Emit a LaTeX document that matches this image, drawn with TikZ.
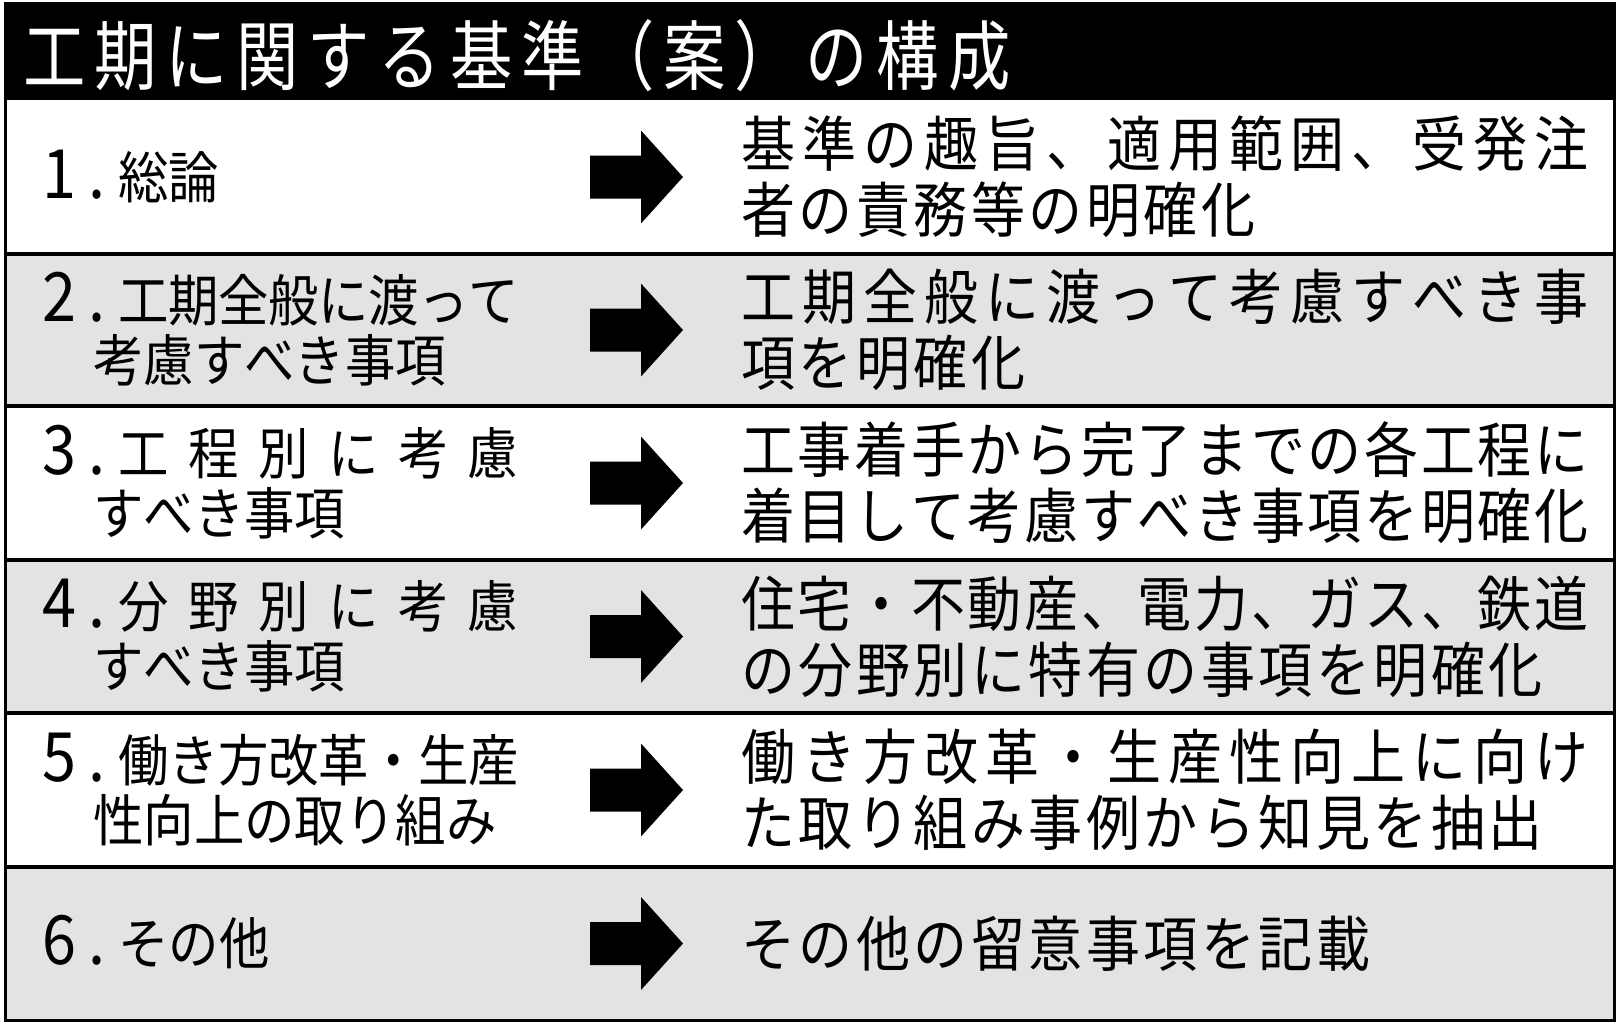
\documentclass[tikz,border=0pt]{standalone}
\usepackage{fontspec}
\newfontfamily\ttlfont[FakeStretch=0.82]{Noto Sans CJK JP}
\newfontfamily\lfont[FakeStretch=0.9]{Noto Sans CJK JP}
\newfontfamily\rfont[FakeStretch=0.9]{Noto Sans CJK JP}
\definecolor{rowgray}{HTML}{E3E3E3}
\makeatletter
\def\jtrack{0pt}
\def\jf@end{\jf@end}
\newcommand\jfill[1]{\jf@a#1\jf@end}
\def\jf@a#1{#1\futurelet\jf@next\jf@b}
\def\jf@b{\ifx\jf@next\jf@end\expandafter\@gobble\else\expandafter\jf@c\fi}
\def\jf@c{\hskip\jtrack plus 1fil minus 2pt\relax\jf@a}
\makeatother
\newcommand\numlabel[1]{\makebox[38pt][l]{\fontsize{34pt}{36pt}\selectfont #1\kern6pt.}}
\newcommand\numline[2]{\hbox to 238pt{\numlabel{#1}\jfill{#2}}}
\newcommand\rjust[1]{\hbox to 423.5pt{\jfill{#1}}}
\begin{document}
\begin{tikzpicture}[x=0.5pt,y=-0.5pt,
  cellL/.style={anchor=base west, inner sep=0pt, font=\lfont\fontsize{28pt}{30pt}\selectfont},
  cellR/.style={anchor=base west, inner sep=0pt, font=\rfont\fontsize{30pt}{32pt}\selectfont,
                execute at begin node={\def\jtrack{1.75pt}}},
  ttl/.style={anchor=base west, inner sep=0pt, text=white, font=\ttlfont\fontsize{38pt}{40pt}\selectfont},
  rowrule/.style={line width=2.25pt, black},
  outerframe/.style={line width=1.5pt, black},
  grayrow/.style={fill=rowgray},
  bigarrow/.pic={\fill[black] (-46.5,-21.5) -- (4.5,-21.5) -- (4.5,-46.5) -- (46.5,0) -- (4.5,46.5) -- (4.5,21.5) -- (-46.5,21.5) -- cycle;}
]
\useasboundingbox (0,0) rectangle (1624,1028);
\fill[white] (0,0) rectangle (1624,1028);
% gray rows
\fill[grayrow] (5,254) rectangle (1614,406);
\fill[grayrow] (5,560) rectangle (1614,713);
\fill[grayrow] (5,867) rectangle (1614,1020);
% title bar
\fill[black] (5,3) rectangle (1614,100);
% rules
\foreach \yy in {254,406,560,713,867} \draw[rowrule] (5,\yy) -- (1614,\yy);
\draw[outerframe] (5,3) rectangle (1614,1020);
% arrows
\foreach \cc in {177,330,483,636.5,790,943.5} \pic at (636.5,\cc) {bigarrow};
% title
\node[ttl] (title) at (23,84) {\hbox to 493.5pt{\jfill{工期に関する基準（案）の構成}}};
% row 1
\node[cellL] (l1a) at (42,198.3) {\numlabel{1}\jfill{総論}};
\node[cellR] (r1a) at (741,166.8) {\rjust{基準の趣旨、適用範囲、受発注}};
\node[cellR] (r1b) at (741,232.8) {\jfill{者の責務等の明確化}};
% row 2
\node[cellL] (l2a) at (42,321.3) {\numline{2}{工期全般に渡って}};
\node[cellL] (l2b) at (93,381.3) {\jfill{考慮すべき事項}};
\node[cellR] (r2a) at (741,319.8) {\rjust{工期全般に渡って考慮すべき事}};
\node[cellR] (r2b) at (741,385.8) {\jfill{項を明確化}};
% row 3
\node[cellL] (l3a) at (42,474.3) {\numline{3}{工程別に考慮}};
\node[cellL] (l3b) at (93,534.3) {\jfill{すべき事項}};
\node[cellR] (r3a) at (741,472.8) {\rjust{工事着手から完了までの各工程に}};
\node[cellR] (r3b) at (741,538.8) {\rjust{着目して考慮すべき事項を明確化}};
% row 4
\node[cellL] (l4a) at (42,627.8) {\numline{4}{分野別に考慮}};
\node[cellL] (l4b) at (93,687.8) {\jfill{すべき事項}};
\node[cellR] (r4a) at (741,626.3) {\rjust{住宅・不動産、電力、ガス、鉄道}};
\node[cellR] (r4b) at (741,692.3) {\jfill{の分野別に特有の事項を明確化}};
% row 5
\node[cellL] (l5a) at (42,781.3) {\numline{5}{働き方改革・生産}};
\node[cellL] (l5b) at (93,841.3) {\jfill{性向上の取り組み}};
\node[cellR] (r5a) at (741,779.8) {\rjust{働き方改革・生産性向上に向け}};
\node[cellR] (r5b) at (741,845.8) {\jfill{た取り組み事例から知見を抽出}};
% row 6
\node[cellL] (l6a) at (42,964.8) {\numlabel{6}\jfill{その他}};
\node[cellR] (r6a) at (741,966.3) {\jfill{その他の留意事項を記載}};
\end{tikzpicture}
\end{document}
